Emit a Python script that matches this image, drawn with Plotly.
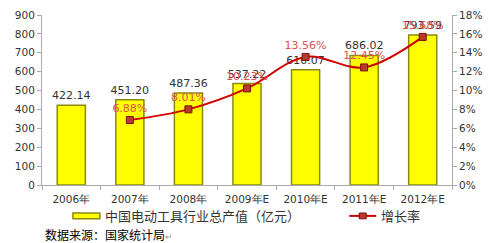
import plotly.graph_objects as go

categories = ["2006年", "2007年", "2008年", "2009年E", "2010年E", "2011年E", "2012年E"]
output_value = [422.14, 451.20, 487.36, 537.22, 610.07, 686.02, 793.59]
growth_years = ["2007年", "2008年", "2009年E", "2010年E", "2011年E", "2012年E"]
growth_rate = [6.88, 8.01, 10.23, 13.56, 12.45, 15.68]
left_ticks = [0, 100, 200, 300, 400, 500, 600, 700, 800, 900]
right_ticks = [0, 2, 4, 6, 8, 10, 12, 14, 16, 18]
bar_name = "中国电动工具行业总产值（亿元）"
line_name = "增长率"

W, H = 491, 243
ml, mr, mt, mb = 42, 38, 9, 58
ph = H - mt - mb
pw = W - ml - mr

def py(pix):
    return (H - mb - pix) / ph

def px(pix):
    return (pix - ml) / pw

BAR_FILL, BAR_LINE = "#ffff00", "#8a8a10"
LINE_C, MK_C, MK_L = "#d00000", "#b83a2a", "#7a1010"

fig = go.Figure()
fig.add_trace(go.Bar(
    x=categories, y=output_value, name=bar_name,
    marker=dict(color=BAR_FILL, line=dict(color=BAR_LINE, width=1.5)),
    width=0.48,
    text=[f"{v:.2f}" for v in output_value], textposition="outside",
    constraintext="none",
    textfont=dict(color="#333333", size=11, family="DejaVu Sans"),
    cliponaxis=False,
))
fig.add_trace(go.Scatter(
    x=growth_years, y=growth_rate, name=line_name, yaxis="y2",
    mode="lines+markers+text", line=dict(color=LINE_C, width=2, shape="spline"),
    marker=dict(symbol="square", size=7, color=MK_C, line=dict(color=MK_L, width=1)),
    text=[f"{v:.2f}%" for v in growth_rate], textposition="top center",
    textfont=dict(color="#e05050", size=11, family="DejaVu Sans"),
    cliponaxis=False,
))

ly = py(217)
shapes = [
    dict(type="rect", xref="paper", yref="paper", x0=px(73), x1=px(100),
         y0=py(220), y1=py(214), fillcolor=BAR_FILL, line=dict(color=BAR_LINE, width=1.5)),
    dict(type="line", xref="paper", yref="paper", x0=px(350), x1=px(377),
         y0=ly, y1=ly, line=dict(color=LINE_C, width=2)),
    dict(type="rect", xref="paper", yref="paper", x0=px(360), x1=px(367),
         y0=py(220), y1=py(214), fillcolor=MK_C, line=dict(color=MK_L, width=1)),
]

annotations = [
    dict(text=bar_name, xref="paper", yref="paper", x=px(103), y=ly,
         xanchor="left", yanchor="middle", showarrow=False,
         font=dict(size=13, color="#333333", family="Noto Sans CJK SC")),
    dict(text=line_name, xref="paper", yref="paper", x=px(380), y=ly,
         xanchor="left", yanchor="middle", showarrow=False,
         font=dict(size=13, color="#333333", family="Noto Sans CJK SC")),
    dict(text="数据来源：国家统计局<span style='color:#999999;font-size:9px'>↵</span>",
         xref="paper", yref="paper", x=px(43), y=py(236),
         xanchor="left", yanchor="middle", showarrow=False,
         font=dict(size=12, color="#000000", family="Noto Sans CJK SC")),
]

fig.update_layout(
    width=W, height=H, margin=dict(l=ml, r=mr, t=mt, b=mb),
    paper_bgcolor="white", plot_bgcolor="white",
    font=dict(family="DejaVu Sans", color="#333333", size=11),
    showlegend=False,
    xaxis=dict(showgrid=False, showline=True, linecolor="#aaaaaa", ticks="outside",
               tickson="boundaries", ticklen=4, tickcolor="#aaaaaa", ticklabelstandoff=4,
               tickfont=dict(size=10.5), range=[-0.5, 6.5]),
    yaxis=dict(range=[0, 900], tickvals=left_ticks, showgrid=False, showline=True,
               linecolor="#aaaaaa", ticks="outside", ticklen=4, tickcolor="#aaaaaa",
               tickfont=dict(size=10.5), zeroline=False),
    yaxis2=dict(range=[0, 18], tickvals=right_ticks, ticktext=[f"{t}%" for t in right_ticks],
                overlaying="y", side="right", showgrid=False, showline=True,
                linecolor="#aaaaaa", ticks="outside", ticklen=4, tickcolor="#aaaaaa",
                tickfont=dict(size=10.5), zeroline=False),
    shapes=shapes,
    annotations=annotations,
)

fig.write_html("out.html")
